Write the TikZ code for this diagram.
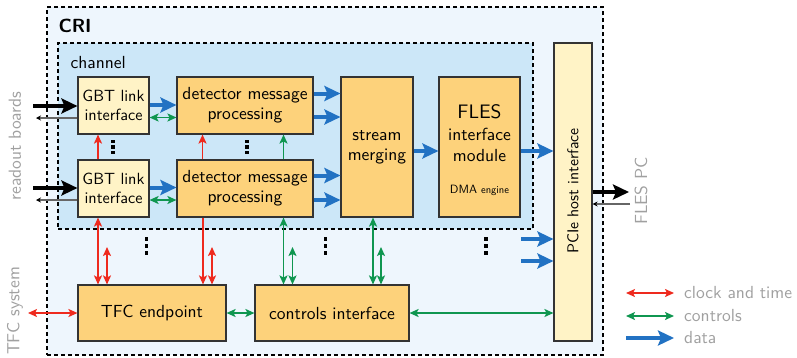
\documentclass[tikz,border=0pt]{standalone}
\usepackage{fontspec}
\setsansfont{lmsans10-regular.otf}[BoldFont=lmsans10-bold.otf]
\usetikzlibrary{arrows.meta}
\definecolor{cribg}{HTML}{EEF6FD}
\definecolor{chbg}{HTML}{CCE7F8}
\definecolor{ylw}{HTML}{FFF3C6}
\definecolor{org}{HTML}{FDD27B}
\definecolor{edge}{HTML}{333333}
\definecolor{clkred}{HTML}{EE2A1E}
\definecolor{ctlgreen}{HTML}{0F9650}
\definecolor{datablue}{HTML}{2272C3}
\definecolor{lbl}{HTML}{A0A0A0}
\begin{document}
\begin{tikzpicture}[x=1pt,y=-1pt,
  every node/.style={font=\sffamily},
  frame/.style={draw=black, line width=1.5pt, dash pattern=on 4pt off 3pt, inner sep=0pt},
  blk/.style={draw=edge, line width=1.1pt, inner sep=0pt, align=center,
              font=\sffamily\fontsize{17.5}{20}\selectfont},
  lightblk/.style={blk, fill=ylw},
  darkblk/.style={blk, fill=org},
  gbttext/.style={font=\sffamily\fontsize{16.2}{19}\selectfont},
  sidelabel/.style={text=lbl, font=\sffamily\fontsize{17.5}{20}\selectfont},
  clkboth/.style={draw=clkred, line width=1.7pt,
     arrows={Stealth[length=9pt,width=8pt,inset=2pt]-Stealth[length=9pt,width=8pt,inset=2pt]}},
  clkone/.style={draw=clkred, line width=1.7pt,
     arrows={-Stealth[length=9pt,width=8pt,inset=2pt]}},
  ctlboth/.style={draw=ctlgreen, line width=1.7pt,
     arrows={Stealth[length=9pt,width=8pt,inset=2pt]-Stealth[length=9pt,width=8pt,inset=2pt]}},
  ctlone/.style={draw=ctlgreen, line width=1.7pt,
     arrows={-Stealth[length=9pt,width=8pt,inset=2pt]}},
  data/.style={draw=datablue, line width=4pt,
     arrows={-Stealth[length=16pt,width=15pt,inset=3pt]}},
  linkin/.style={draw=black, line width=4pt,
     arrows={-Stealth[length=16pt,width=15pt,inset=3pt]}},
  linkback/.style={draw=black!60, line width=1.2pt,
     arrows={-Stealth[length=5pt,width=5pt,color=black]}},
]
\useasboundingbox (0,0) rectangle (797,357);

% containers
\node[frame, fill=cribg, minimum width=556pt, minimum height=348pt] (cri) at (325,181) {};
\node[frame, fill=chbg, minimum width=475pt, minimum height=186pt] (chan) at (295.5,136) {};
\node[anchor=base west, font=\sffamily\bfseries\fontsize{19}{22}\selectfont] (crititle) at (55,32) {CRI};
\node[anchor=base west, font=\sffamily\fontsize{17.5}{20}\selectfont] (chantitle) at (67,68) {channel};

% blocks
\node[lightblk, gbttext, minimum width=71pt, minimum height=57pt] (g1) at (113.5,105.5) {GBT link\\interface};
\node[lightblk, gbttext, minimum width=71pt, minimum height=57pt] (g2) at (113.5,188.5) {GBT link\\interface};
\node[darkblk, minimum width=136pt, minimum height=57pt] (d1) at (245,105.5) {detector message\\processing};
\node[darkblk, minimum width=136pt, minimum height=57pt] (d2) at (245,188.5) {detector message\\processing};
\node[darkblk, minimum width=72pt, minimum height=140pt] (sm) at (377,147) {stream\\merging};
\node[darkblk, minimum width=81pt, minimum height=140pt] (fl) at (479.5,147) {};
\node[anchor=base, font=\sffamily\fontsize{19.5}{22}\selectfont] (flA) at (479.5,118) {FLES};
\node[anchor=base, font=\sffamily\fontsize{17.5}{20}\selectfont] (flB) at (479.5,140) {interface};
\node[anchor=base, font=\sffamily\fontsize{17.5}{20}\selectfont] (flC) at (479.5,161) {module};
\node[anchor=base, font=\sffamily\fontsize{12}{14}\selectfont] (flD) at (479.5,193) {DMA {\fontsize{10.5}{12}\selectfont engine}};
\node[lightblk, minimum width=38pt, minimum height=298pt] (pcie) at (573,192) {};
\node[rotate=90, font=\sffamily\fontsize{15.7}{18}\selectfont] (pciet) at (573,191) {PCIe host interface};
\node[darkblk, minimum width=148pt, minimum height=56pt] (tfc) at (152,313) {TFC endpoint};
\node[darkblk, minimum width=154pt, minimum height=56pt] (ctl) at (332,313) {controls interface};

% outside labels
\node[sidelabel, rotate=90] (rob) at (15,146) {readout boards};
\node[sidelabel, rotate=90] (tfcs) at (15,311) {TFC system};
\node[sidelabel, rotate=90] (flespc) at (641,191) {FLES PC};

% optical links to the readout boards
\coordinate (rb1) at (33,106);
\coordinate (rb2) at (33,188);
\draw[linkin] (rb1) -- (rb1 -| g1.west);
\draw[linkin] (rb2) -- (rb2 -| g2.west);
\coordinate (rbb1) at (36,118);
\coordinate (rbb2) at (36,200);
\draw[linkback] (rbb1 -| g1.west) -- (rbb1);
\draw[linkback] (rbb2 -| g2.west) -- (rbb2);

% GBT -> detector message processing
\draw[data] ([yshift=0.5pt]g1.east) -- ([yshift=0.5pt]d1.west);
\draw[ctlboth] ([yshift=-12pt]g1.east) -- ([yshift=-12pt]d1.west);
\draw[data] ([yshift=1pt]g2.east) -- ([yshift=1pt]d2.west);
\draw[ctlboth] ([yshift=-11.5pt]g2.east) -- ([yshift=-11.5pt]d2.west);

% detector message processing -> stream merging
\draw[data] ([yshift=12pt]d1.east) -- ([yshift=12pt]d1.east -| sm.west);
\draw[data] ([yshift=-11.5pt]d1.east) -- ([yshift=-11.5pt]d1.east -| sm.west);
\draw[data] ([yshift=13pt]d2.east) -- ([yshift=13pt]d2.east -| sm.west);
\draw[data] ([yshift=-11.5pt]d2.east) -- ([yshift=-11.5pt]d2.east -| sm.west);

% stream merging -> FLES interface -> PCIe
\draw[data] ([yshift=-4pt]sm.east) -- ([yshift=-4pt]fl.west);
\draw[data] ([yshift=-4pt]fl.east) -- ([yshift=-4pt]fl.east -| pcie.west);
\coordinate (dx1) at (521,239);
\coordinate (dx2) at (521,261);
\draw[data] (dx1) -- (dx1 -| pcie.west);
\draw[data] (dx2) -- (dx2 -| pcie.west);

% distribution between channel instances
\draw[clkone] ([xshift=-15.5pt]g2.north) -- ([xshift=-15.5pt]g1.south);
\draw[clkone] ([xshift=-42.5pt]d2.north) -- ([xshift=-42.5pt]d1.south);
\draw[ctlone] ([xshift=38.5pt]d2.north) -- ([xshift=38.5pt]d1.south);

% clock and controls distribution from the bottom blocks
\coordinate (v1) at ([xshift=-15.5pt]g2.south);
\coordinate (v2) at ([xshift=-42pt]d2.south);
\coordinate (v3) at ([xshift=38.5pt]d2.south);
\coordinate (v4) at ([xshift=-4pt]sm.south);
\draw[clkboth] (v1) -- (v1 |- tfc.north);
\draw[clkone] (v2) -- (v2 |- tfc.north);
\draw[ctlboth] (v3) -- (v3 |- ctl.north);
\draw[ctlboth] (v4) -- (v4 |- ctl.north);
\coordinate (s1) at (107,247);
\coordinate (s2) at (212,247);
\coordinate (s3) at (292.5,247);
\coordinate (s4) at (381,247);
\draw[clkboth] (s1) -- (s1 |- tfc.north);
\draw[clkboth] (s2) -- (s2 |- tfc.north);
\draw[ctlboth] (s3) -- (s3 |- ctl.north);
\draw[ctlboth] (s4) -- (s4 |- ctl.north);

% bottom row links
\coordinate (tfcsys) at (28,313);
\draw[clkboth] (tfcsys) -- (tfc.west);
\draw[ctlboth] (tfc.east) -- (ctl.west);
\draw[ctlboth] (ctl.east) -- (ctl.east -| pcie.west);

% link to the FLES PC
\coordinate (pc1) at (629,192);
\coordinate (pc2) at (630,204);
\draw[linkin] (pc1 -| pcie.east) -- (pc1);
\draw[linkback] (pc2) -- (pc2 -| pcie.east);

% continuation dots
\foreach \x/\y/\s in {113/147/5.5, 247/147/5.5, 146.5/246/7, 325.5/246/7, 486/246/7}{
  \foreach \k in {-1,0,1}{
    \fill (\x-1.7,\y+\k*\s-1.7) rectangle ++(3.4,3.4);
  }
}

% legend
\coordinate (la1) at (626,293); \coordinate (la2) at (674,293);
\coordinate (lb1) at (626,316); \coordinate (lb2) at (674,316);
\coordinate (lc1) at (626,338); \coordinate (lc2) at (674,338);
\draw[clkboth] (la1) -- (la2);
\draw[ctlboth] (lb1) -- (lb2);
\draw[data] (lc1) -- (lc2);
\node[sidelabel, anchor=west, inner sep=0pt] (lat) at (684,293) {clock and time};
\node[sidelabel, anchor=west, inner sep=0pt] (lbt) at (684,316) {controls};
\node[sidelabel, anchor=west, inner sep=0pt] (lct) at (684,338) {data};
\end{tikzpicture}
\end{document}
